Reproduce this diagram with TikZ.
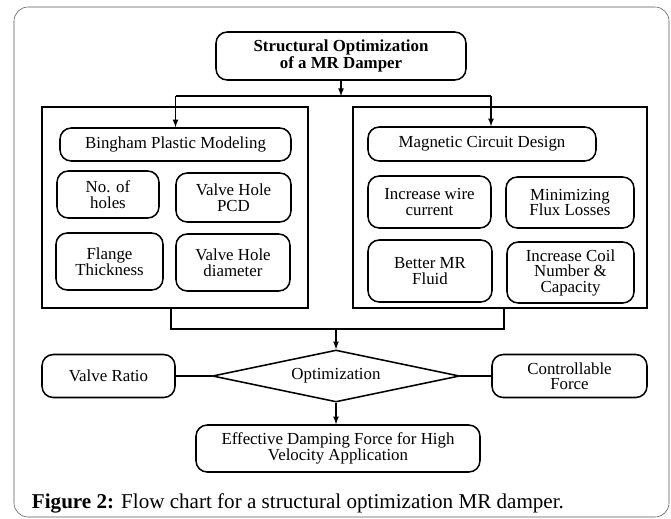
\documentclass[tikz,border=0pt]{standalone}
\usepackage{fontspec}
\setmainfont{Liberation Serif}
\usetikzlibrary{shapes.geometric}
\tikzset{>=latex}
\tikzset{
	rbox/.style={draw, line width=1.1pt, rounded corners=8pt, align=center, inner sep=1pt, font=\fontsize{12}{11}\selectfont},
	grp/.style={draw, line width=0.9pt, inner sep=0pt},
	decision/.style={draw, line width=1.1pt, diamond, aspect=4.7, inner sep=0pt, font=\fontsize{12}{11}\selectfont}
}
\begin{document}
\begin{tikzpicture}
	\useasboundingbox (0,0) rectangle (16.775,-12.95);
	\draw[color=black!65, rounded corners=10pt](0.35,-0.175) rectangle (16.725,-12.925);

	\node[rbox, minimum width=6.25cm, minimum height=1.2cm] (top) at (8.525,-1.4) {\bfseries Structural Optimization\\ \bfseries of a MR Damper};

	\node[grp, minimum width=6.65cm, minimum height=5.025cm] (lgroup) at (4.375,-5.1875) {};
	\node[grp, minimum width=7.35cm, minimum height=5.025cm] (rgroup) at (12.5,-5.1875) {};

	\node[rbox, minimum width=5.775cm, minimum height=0.825cm] (bingham) at (4.3875,-3.6125) {Bingham Plastic Modeling};
	\node[rbox, minimum width=2.55cm, minimum height=1.175cm] (holes) at (2.7,-4.8625) {No. of\\ holes};
	\node[rbox, minimum width=2.875cm, minimum height=1.225cm] (pcd) at (5.8375,-4.9375) {Valve Hole\\ PCD};
	\node[rbox, minimum width=2.675cm, minimum height=1.425cm] (flange) at (2.7375,-6.5375) {Flange\\ Thickness};
	\node[rbox, minimum width=2.85cm, minimum height=1.425cm] (diam) at (5.825,-6.5625) {Valve Hole\\ diameter};

	\node[rbox, minimum width=5.7cm, minimum height=0.85cm] (magnetic) at (12.05,-3.6) {Magnetic Circuit Design};
	\node[rbox, minimum width=3.075cm, minimum height=1.3cm] (wire) at (10.7375,-5.05) {Increase wire\\ current};
	\node[rbox, minimum width=3.2cm, minimum height=1.275cm] (flux) at (14.25,-5.0625) {Minimizing\\ Flux Losses};
	\node[rbox, minimum width=3.1cm, minimum height=1.55cm] (fluid) at (10.75,-6.775) {Better MR\\ Fluid};
	\node[rbox, minimum width=3.175cm, minimum height=1.525cm] (coil) at (14.2625,-6.8125) {Increase Coil\\ Number \&\\ Capacity};

	\node[decision, minimum width=6.175cm, minimum height=1.3cm] (opt) at (8.4,-9.4) {Optimization};
	\node[rbox, minimum width=3.325cm, minimum height=1.075cm] (vratio) at (2.7125,-9.4) {Valve Ratio};
	\node[rbox, minimum width=3.875cm, minimum height=1.075cm] (cforce) at (14.2375,-9.4) {Controllable\\ Force};
	\node[rbox, minimum width=7.1cm, minimum height=1.175cm] (eff) at (8.45,-11.2125) {Effective Damping Force for High\\ Velocity Application};

	\coordinate (split) at (8.525,-2.4);
	\coordinate (lsplit) at (4.3875,-2.4);
	\coordinate (rsplit) at (12.275,-2.4);
	\coordinate (merge) at (8.4,-8.225);

	\draw[line width=0.9pt][->](top.south)--(split);
	\draw[line width=0.9pt](lsplit)--(rsplit);
	\draw[line width=0.9pt][->](lsplit)--(bingham.north);
	\draw[line width=0.9pt][->](rsplit)--(rsplit |- magnetic.north);

	\draw[line width=0.9pt]([xshift=-0.1cm]lgroup.south) |- (merge) -| ([xshift=0.1cm]rgroup.south);
	\draw[line width=0.9pt][->](merge)--(opt.north);
	\draw[line width=1.1pt](vratio)--(opt);
	\draw[line width=1.1pt](opt)--(cforce);
	\draw[line width=0.9pt][->](opt.south)--(opt.south |- eff.north);

	\node[anchor=base west, font=\fontsize{15}{18}\selectfont] (caption) at (0.675,-12.7) {\textbf{Figure 2:} Flow chart for a structural optimization MR damper.};
\end{tikzpicture}
\end{document}
